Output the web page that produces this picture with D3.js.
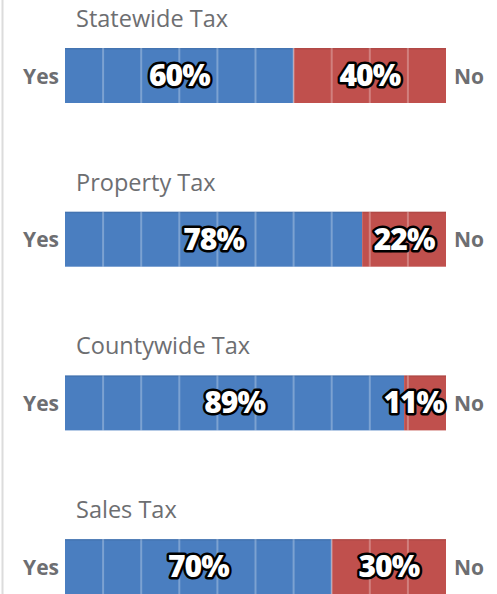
<!DOCTYPE html>
<html>
<head>
<meta charset="utf-8">
<script src="https://cdn.jsdelivr.net/npm/d3@7"></script>
<style>
  html, body { margin: 0; padding: 0; background: #fff; }
  svg { display: block; }
</style>
</head>
<body>
<svg id="chart" width="497" height="594"></svg>
<script>
// Ballot measures: share of Yes / No votes for each tax
const categories = ["Statewide Tax", "Property Tax", "Countywide Tax", "Sales Tax"];
const yesValues = [60, 78, 89, 70];
const noValues = [40, 22, 11, 30];
const gridTicks = [10, 20, 30, 40, 50, 60, 70, 80, 90];

const svg = d3.select("#chart");
const W = 497, H = 594;
const barH = 55;
const font = "'Open Sans', 'Noto Sans', sans-serif";

// thin frame line on the left
svg.append("line")
  .attr("x1", 2.5).attr("x2", 2.5).attr("y1", 0).attr("y2", H)
  .attr("stroke", "#dcdcdc").attr("stroke-width", 2);

const x = d3.scaleLinear().domain([0, 100]).range([65, 446]);
const y = d3.scaleBand().domain(categories).range([48, 48 + 4 * 163.7]).paddingInner(0);

const data = categories.map((c, i) => ({ cat: c, yes: yesValues[i], no: noValues[i] }));

const g = svg.selectAll("g.row").data(data).join("g")
  .attr("class", "row")
  .attr("transform", d => `translate(0,${y(d.cat)})`);

// title above each bar
g.append("text")
  .attr("x", 76).attr("y", -21)
  .attr("font-family", font).attr("font-size", 23.5)
  .attr("fill", "#6d6e71")
  .text(d => d.cat);

// Yes segment
g.append("rect")
  .attr("x", x(0)).attr("y", 0)
  .attr("width", d => x(d.yes) - x(0)).attr("height", barH)
  .attr("fill", "#4a7ec0");

// No segment
g.append("rect")
  .attr("x", d => x(d.yes)).attr("y", 0)
  .attr("width", d => x(d.yes + d.no) - x(d.yes)).attr("height", barH)
  .attr("fill", "#c0504d");

// faint darker rim along the top
g.append("rect")
  .attr("x", x(0)).attr("y", 0)
  .attr("width", x(100) - x(0)).attr("height", 1.5)
  .attr("fill", "#000").attr("opacity", 0.08);

// light grid lines every 10%
g.selectAll("line.grid").data(gridTicks).join("line")
  .attr("class", "grid")
  .attr("x1", t => x(t)).attr("x2", t => x(t))
  .attr("y1", 0).attr("y2", barH)
  .attr("stroke", "#fff").attr("stroke-opacity", 0.28).attr("stroke-width", 2);

// Yes / No side labels
g.append("text")
  .attr("x", x(0) - 6).attr("y", barH / 2 + 8)
  .attr("text-anchor", "end")
  .attr("font-family", font).attr("font-weight", 700).attr("font-size", 21)
  .attr("fill", "#6d6e71")
  .text("Yes");

g.append("text")
  .attr("x", x(100) + 8).attr("y", barH / 2 + 8)
  .attr("text-anchor", "start")
  .attr("font-family", font).attr("font-weight", 700).attr("font-size", 21)
  .attr("fill", "#6d6e71")
  .text("No");

// percentage labels, centred in each segment and kept inside the bar
function addLabel(sel, startFn, endFn, valFn) {
  sel.append("text")
    .attr("y", barH / 2 + 10.5)
    .attr("text-anchor", "middle")
    .attr("font-family", font).attr("font-weight", 800).attr("font-size", 30)
    .attr("letter-spacing", -1)
    .attr("fill", "#fff")
    .attr("stroke", "#000").attr("stroke-width", 5)
    .attr("stroke-linejoin", "round")
    .attr("paint-order", "stroke")
    .text(d => valFn(d) + "%")
    .each(function (d) {
      const w = this.getComputedTextLength();
      let cx = (x(startFn(d)) + x(endFn(d))) / 2;
      cx = Math.max(x(0) + w / 2 + 3, Math.min(x(100) - w / 2 - 2, cx));
      d3.select(this).attr("x", cx);
    });
}
addLabel(g, d => 0, d => d.yes, d => d.yes);
addLabel(g, d => d.yes, d => d.yes + d.no, d => d.no);
</script>
</body>
</html>
